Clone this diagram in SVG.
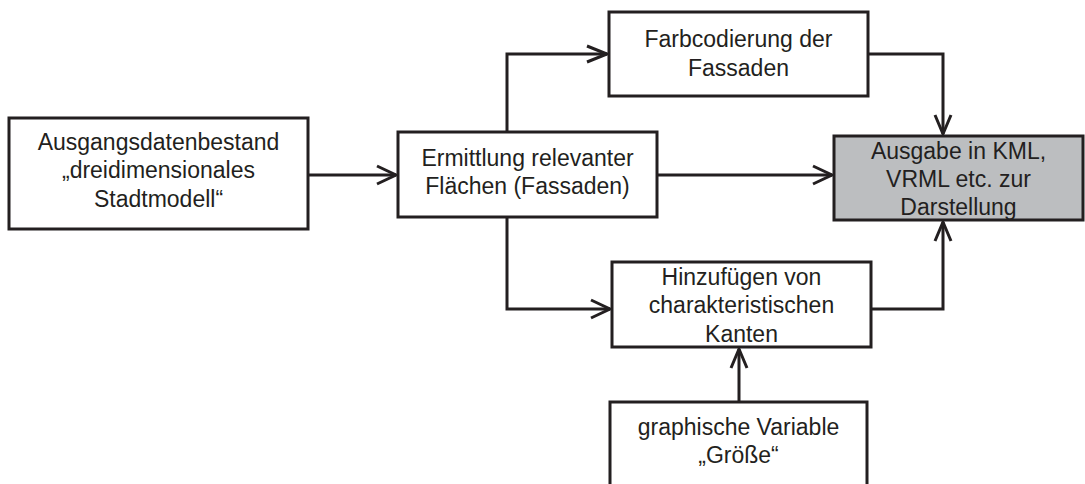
<svg xmlns="http://www.w3.org/2000/svg" width="1085" height="484" viewBox="0 0 1085 484">
<style>
.box{fill:#ffffff;stroke:#231f20;stroke-width:3}
.grey{fill:#bcbec0}
.t{font-family:"Liberation Sans",Arial,sans-serif;font-size:23px;fill:#231f20;text-anchor:middle}
.c{fill:none;stroke:#231f20;stroke-width:3}
.ah{fill:none;stroke:#231f20;stroke-width:3;stroke-linejoin:miter}
</style>
<rect width="1085" height="484" fill="#ffffff"/>
<g id="connectors">
<path class="c" d="M308,175 H396"/>
<path class="ah" d="M377,166 L396,175 L377,184"/>
<path class="c" d="M507,133 V54 H607"/>
<path class="ah" d="M587,46 L607,54 L587,62"/>
<path class="c" d="M657,175 H832"/>
<path class="ah" d="M813,166 L832,175 L813,184"/>
<path class="c" d="M868,54 H943 V134"/>
<path class="ah" d="M935,115 L943,134 L951,115"/>
<path class="c" d="M507,217 V309 H610"/>
<path class="ah" d="M591,300 L610,309 L591,318"/>
<path class="c" d="M871,309 H943 V222"/>
<path class="ah" d="M935,241 L943,222 L951,241"/>
<path class="c" d="M739,402 V349"/>
<path class="ah" d="M731,368 L739,349 L747,368"/>
</g>
<g id="node-ausgangsdaten">
<rect class="box" x="9" y="118" width="299" height="111"/>
<text class="t" x="158.5" y="150">Ausgangsdatenbestand</text>
<text class="t" x="158.5" y="178">„dreidimensionales</text>
<text class="t" x="158.5" y="207">Stadtmodell“</text>
</g>
<g id="node-ermittlung">
<rect class="box" x="398" y="132" width="259" height="85"/>
<text class="t" x="527.5" y="166">Ermittlung relevanter</text>
<text class="t" x="527.5" y="194">Flächen (Fassaden)</text>
</g>
<g id="node-farbcodierung">
<rect class="box" x="609" y="12" width="259" height="84"/>
<text class="t" x="738.5" y="47">Farbcodierung der</text>
<text class="t" x="738.5" y="76">Fassaden</text>
</g>
<g id="node-ausgabe">
<rect class="box grey" x="834" y="136" width="249" height="84"/>
<text class="t" x="958.5" y="159">Ausgabe in KML,</text>
<text class="t" x="958.5" y="187">VRML etc. zur</text>
<text class="t" x="958.5" y="215">Darstellung</text>
</g>
<g id="node-hinzufuegen">
<rect class="box" x="612" y="262" width="259" height="85"/>
<text class="t" x="741.5" y="285">Hinzufügen von</text>
<text class="t" x="741.5" y="313">charakteristischen</text>
<text class="t" x="741.5" y="342">Kanten</text>
</g>
<g id="node-variable">
<rect class="box" x="610" y="402" width="257" height="100"/>
<text class="t" x="738.5" y="435">graphische Variable</text>
<text class="t" x="738.5" y="463">„Größe“</text>
</g>
</svg>
